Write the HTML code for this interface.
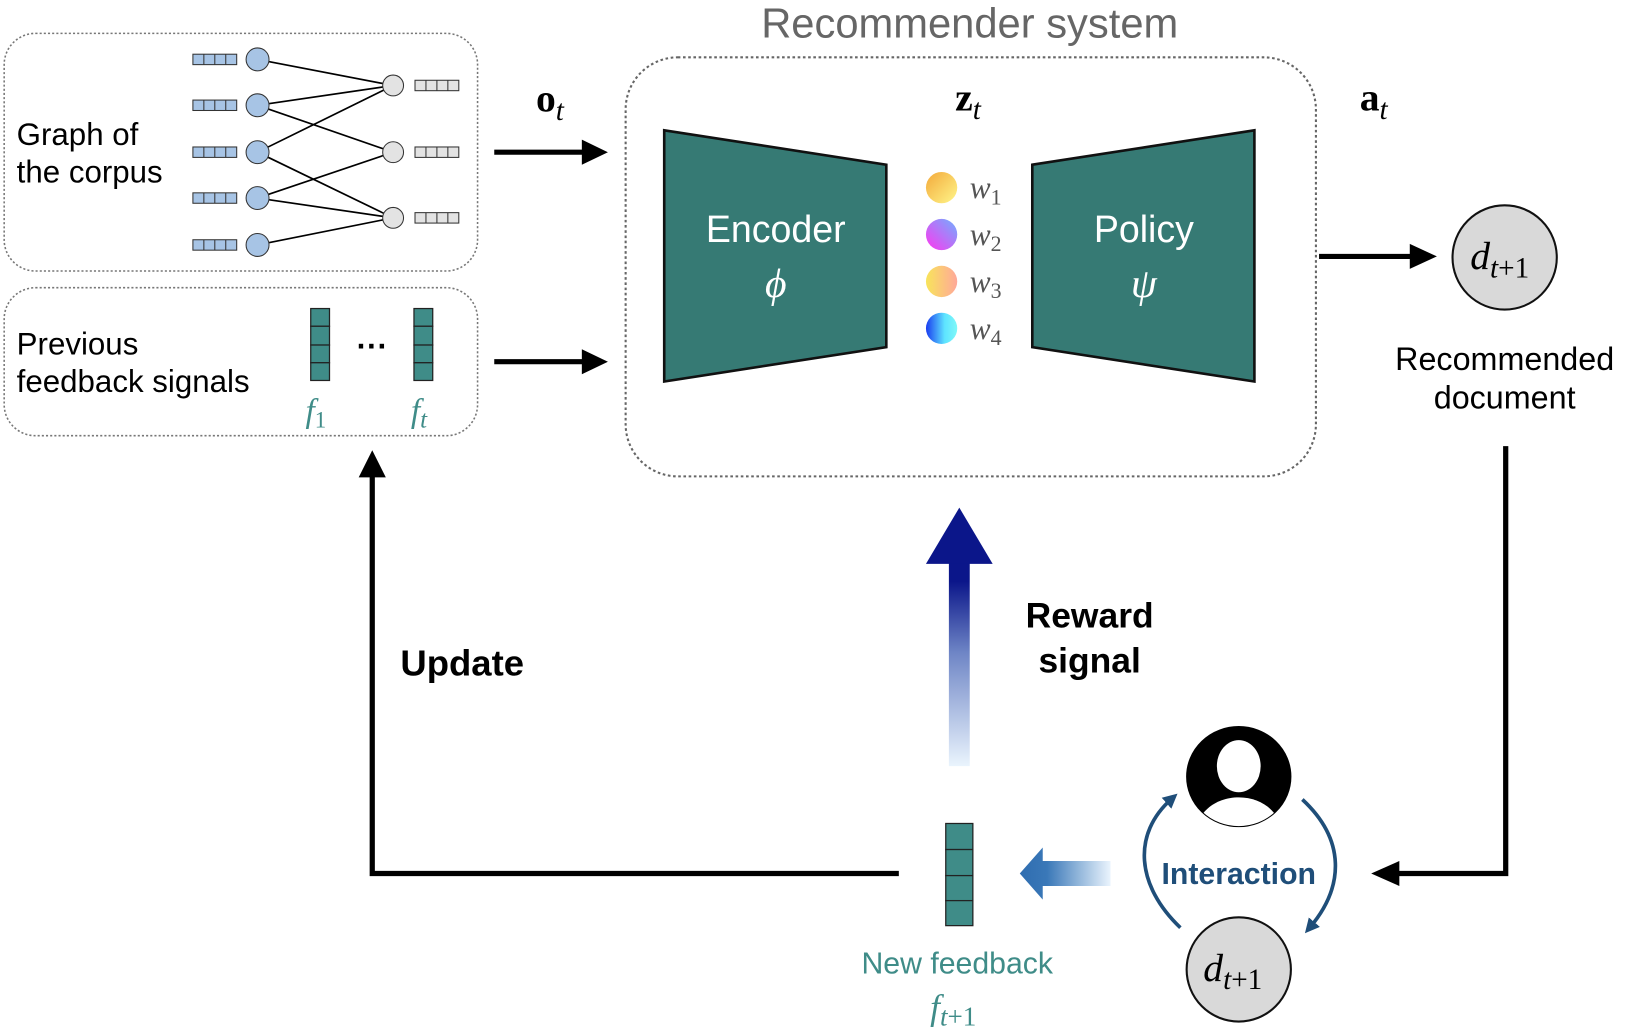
<!DOCTYPE html>
<html><head><meta charset="utf-8"><style>
html,body{margin:0;padding:0;background:#fff;}
svg{display:block;}
.s{font-family:"Liberation Sans",sans-serif;}
.m{font-family:"Liberation Serif",serif;}
</style></head><body>
<svg width="1635" height="1033" viewBox="0 0 1568 991" preserveAspectRatio="none" xmlns="http://www.w3.org/2000/svg">
<defs>
<linearGradient id="rw" x1="0" y1="1" x2="0" y2="0"><stop offset="0" stop-color="#eaf4fd"/><stop offset="0.55" stop-color="#6f86c6"/><stop offset="0.9" stop-color="#0b168a"/></linearGradient>
<linearGradient id="fb" x1="1" y1="0" x2="0" y2="0"><stop offset="0" stop-color="#eaf4fd"/><stop offset="0.7" stop-color="#3a78b8"/><stop offset="1" stop-color="#2f6db0"/></linearGradient>
<linearGradient id="g1" x1="0" y1="0" x2="1" y2="1"><stop offset="0" stop-color="#f3a93a"/><stop offset="1" stop-color="#fff68a"/></linearGradient>
<linearGradient id="g2" x1="0" y1="1" x2="1" y2="0"><stop offset="0" stop-color="#ff36f0"/><stop offset="1" stop-color="#6fb0ff"/></linearGradient>
<linearGradient id="g3" x1="0" y1="0" x2="1" y2="0"><stop offset="0" stop-color="#f8e45a"/><stop offset="1" stop-color="#ffa89a"/></linearGradient>
<linearGradient id="g4" x1="0" y1="0" x2="1" y2="0"><stop offset="0" stop-color="#1a3cf0"/><stop offset="0.6" stop-color="#5ee4ff"/><stop offset="1" stop-color="#7ff8f8"/></linearGradient>
<marker id="ba" viewBox="0 0 10 10" refX="5" refY="5" markerWidth="4" markerHeight="4" orient="auto"><path d="M0,0L10,5L0,10z" fill="#1f4e79"/></marker>
</defs>

<rect x="4" y="32" width="454" height="228" rx="30" fill="none" stroke="#777" stroke-width="1.5" stroke-dasharray="2,2"/>
<rect x="4" y="276" width="454" height="142" rx="30" fill="none" stroke="#777" stroke-width="1.5" stroke-dasharray="2,2"/>
<g stroke="#000" stroke-width="1.6">
<line x1="247" y1="57" x2="377" y2="82"/><line x1="247" y1="101" x2="377" y2="82"/><line x1="247" y1="101" x2="377" y2="146"/>
<line x1="247" y1="146" x2="377" y2="82"/><line x1="247" y1="146" x2="377" y2="209"/><line x1="247" y1="190" x2="377" y2="146"/>
<line x1="247" y1="190" x2="377" y2="209"/><line x1="247" y1="235" x2="377" y2="209"/>
</g>
<g fill="#a7c4e5" stroke="#333" stroke-width="1">
<g id="lr"><rect x="185" y="52" width="42" height="10"/><line x1="195.5" y1="52" x2="195.5" y2="62"/><line x1="206" y1="52" x2="206" y2="62"/><line x1="216.5" y1="52" x2="216.5" y2="62"/></g>
<use href="#lr" y="44"/><use href="#lr" y="89"/><use href="#lr" y="133"/><use href="#lr" y="178"/>
<circle cx="247" cy="57" r="11"/><circle cx="247" cy="101" r="11"/><circle cx="247" cy="146" r="11"/><circle cx="247" cy="190" r="11"/><circle cx="247" cy="235" r="11"/>
</g>
<g fill="#e3e3e3" stroke="#333" stroke-width="1">
<g id="rr"><rect x="398" y="77" width="42" height="10"/><line x1="408.5" y1="77" x2="408.5" y2="87"/><line x1="419" y1="77" x2="419" y2="87"/><line x1="429.5" y1="77" x2="429.5" y2="87"/></g>
<use href="#rr" y="64"/><use href="#rr" y="127"/>
<circle cx="377" cy="82" r="10"/><circle cx="377" cy="146" r="10"/><circle cx="377" cy="209" r="10"/>
</g>
<text class="s" x="16" y="139" font-size="30">Graph of</text>
<text class="s" x="16" y="175" font-size="30">the corpus</text>
<text class="s" x="16" y="340" font-size="30">Previous</text>
<text class="s" x="16" y="376" font-size="30">feedback signals</text>
<g fill="#3f8c88" stroke="#222" stroke-width="1.2">
<rect x="298" y="296" width="18" height="17"/><rect x="298" y="313" width="18" height="18"/><rect x="298" y="331" width="18" height="17"/><rect x="298" y="348" width="18" height="17"/>
<rect x="397" y="296" width="18" height="17"/><rect x="397" y="313" width="18" height="18"/><rect x="397" y="331" width="18" height="17"/><rect x="397" y="348" width="18" height="17"/>
</g>
<text class="s" x="357" y="342" font-size="30" text-anchor="middle" font-weight="bold">···</text>
<text class="m" x="293" y="405" font-size="32" font-style="italic" fill="#3f8c88">f<tspan font-size="22" font-style="normal" dy="5">1</tspan></text>
<text class="m" x="394" y="405" font-size="32" font-style="italic" fill="#3f8c88">f<tspan font-size="24" dy="5">t</tspan></text>

<line x1="474" y1="146" x2="560" y2="146" stroke="#000" stroke-width="5"/><path d="M558,134L583,146L558,158z"/>
<line x1="474" y1="347" x2="560" y2="347" stroke="#000" stroke-width="5"/><path d="M558,335L583,347L558,359z"/>
<text class="m" x="514" y="107" font-size="38" font-weight="bold">o<tspan font-size="28" font-style="italic" font-weight="normal" dy="8">t</tspan></text>

<text class="s" x="930" y="36" font-size="40" fill="#666" text-anchor="middle">Recommender system</text>
<rect x="600" y="55" width="662" height="402" rx="50" fill="none" stroke="#666" stroke-width="2" stroke-dasharray="2.5,2.5"/>
<path d="M637,125L850,158L850,333L637,366z" fill="#367a74" stroke="#111" stroke-width="2.5"/>
<path d="M990,158L1203,125L1203,366L990,333z" fill="#367a74" stroke="#111" stroke-width="2.5"/>
<text class="s" x="744" y="232" font-size="36" fill="#fff" text-anchor="middle">Encoder</text>
<text class="m" x="744" y="285" font-size="40" fill="#fff" font-style="italic" text-anchor="middle">ϕ</text>
<text class="s" x="1097" y="232" font-size="36" fill="#fff" text-anchor="middle">Policy</text>
<text class="m" x="1097" y="285" font-size="40" fill="#fff" font-style="italic" text-anchor="middle">ψ</text>
<text class="m" x="916" y="106" font-size="38" font-weight="bold">z<tspan font-size="28" font-style="italic" font-weight="normal" dy="8">t</tspan></text>
<circle cx="903" cy="180" r="15" fill="url(#g1)"/><circle cx="903" cy="225" r="15" fill="url(#g2)"/>
<circle cx="903" cy="270" r="15" fill="url(#g3)"/><circle cx="903" cy="315" r="15" fill="url(#g4)"/>
<g class="m" font-size="30" font-style="italic" fill="#555">
<text x="930" y="190">w<tspan font-size="21" font-style="normal" dy="6">1</tspan></text>
<text x="930" y="235">w<tspan font-size="21" font-style="normal" dy="6">2</tspan></text>
<text x="930" y="280">w<tspan font-size="21" font-style="normal" dy="6">3</tspan></text>
<text x="930" y="325">w<tspan font-size="21" font-style="normal" dy="6">4</tspan></text>
</g>
<text class="m" x="1304" y="106" font-size="38" font-weight="bold">a<tspan font-size="28" font-style="italic" font-weight="normal" dy="8">t</tspan></text>
<line x1="1265" y1="246" x2="1355" y2="246" stroke="#000" stroke-width="5"/><path d="M1352,234L1378,246L1352,258z"/>
<circle cx="1443" cy="247" r="50" fill="#d9d9d9" stroke="#111" stroke-width="2"/>
<text class="m" x="1410" y="258" font-size="38" font-style="italic">d<tspan font-size="28" dy="8">t</tspan><tspan font-size="28" font-style="normal">+1</tspan></text>
<text class="s" x="1443" y="355" font-size="31" text-anchor="middle">Recommended</text>
<text class="s" x="1443" y="392" font-size="31" text-anchor="middle">document</text>

<polyline points="1444,428 1444,838 1340,838" fill="none" stroke="#000" stroke-width="5"/>
<path d="M1342,826L1315,838L1342,850z"/>
<polyline points="862,838 357,838 357,455" fill="none" stroke="#000" stroke-width="5"/>
<path d="M344,458L357,432L370,458z"/>
<text class="s" x="384" y="648" font-size="35" font-weight="bold">Update</text>

<rect x="910" y="538" width="20" height="197" fill="url(#rw)"/>
<path d="M920,487L952,541L888,541z" fill="#0b168a"/>
<text class="s" x="1045" y="602" font-size="34" font-weight="bold" text-anchor="middle">Reward</text>
<text class="s" x="1045" y="645" font-size="34" font-weight="bold" text-anchor="middle">signal</text>

<g fill="#3f8c88" stroke="#222" stroke-width="1.2">
<rect x="907" y="790" width="26" height="25"/><rect x="907" y="815" width="26" height="25"/><rect x="907" y="840" width="26" height="24"/><rect x="907" y="864" width="26" height="24"/>
</g>
<path d="M1065,826L1000,826L1000,813L978,838L1000,863L1000,850L1065,850z" fill="url(#fb)"/>
<text class="s" x="918" y="934" font-size="29" fill="#3f8c88" text-anchor="middle">New feedback</text>
<text class="m" x="892" y="978" font-size="34" font-style="italic" fill="#3f8c88">f<tspan font-size="26" dy="6">t</tspan><tspan font-size="26" font-style="normal">+1</tspan></text>

<ellipse cx="1188" cy="745" rx="50" ry="48" fill="#000"/>
<ellipse cx="1188" cy="735" rx="21" ry="25" fill="#fff"/>
<path d="M1145,805C1146,780 1165,765 1188,765C1211,765 1230,780 1231,805L1220,815C1200,825 1176,825 1156,815z" fill="#fff"/>
<ellipse cx="1188" cy="745" rx="50" ry="48" fill="none" stroke="#000" stroke-width="1"/>
<path d="M1132,890C1090,850 1085,800 1124,766" fill="none" stroke="#1f4e79" stroke-width="3.5" marker-end="url(#ba)"/>
<path d="M1249,767C1290,805 1290,850 1256,890" fill="none" stroke="#1f4e79" stroke-width="3.5" marker-end="url(#ba)"/>
<text class="s" x="1188" y="848" font-size="29" font-weight="bold" fill="#1f4e79" text-anchor="middle">Interaction</text>
<circle cx="1188" cy="930" r="50" fill="#d9d9d9" stroke="#111" stroke-width="2"/>
<text class="m" x="1154" y="941" font-size="38" font-style="italic">d<tspan font-size="28" dy="8">t</tspan><tspan font-size="28" font-style="normal">+1</tspan></text>
</svg>
</body></html>
